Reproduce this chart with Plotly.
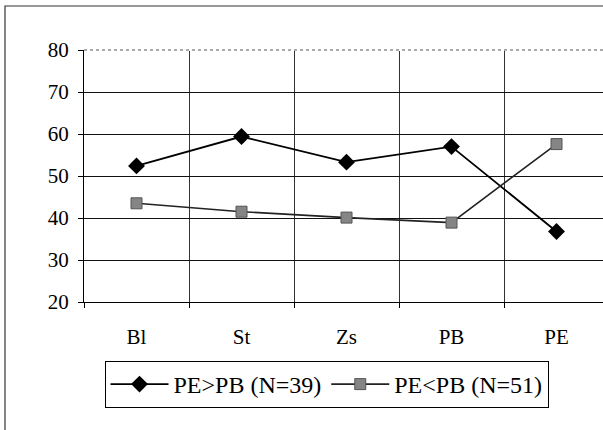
import plotly.graph_objects as go

categories = ["Bl", "St", "Zs", "PB", "PE"]
series_a_name = "PE>PB (N=39)"
series_a = [52.4, 59.4, 53.3, 57.0, 36.8]
series_b_name = "PE<PB (N=51)"
series_b = [43.5, 41.5, 40.1, 38.9, 57.6]
y_ticks = [20, 30, 40, 50, 60, 70, 80]

FONT = "Liberation Serif"

fig = go.Figure()
fig.add_trace(go.Scatter(
    x=categories, y=series_a, name=series_a_name, mode="lines+markers",
    line=dict(color="black", width=1.8),
    marker=dict(symbol="diamond", size=13, color="black"),
))
fig.add_trace(go.Scatter(
    x=categories, y=series_b, name=series_b_name, mode="lines+markers",
    line=dict(color="#222222", width=1.6),
    marker=dict(symbol="square", size=11, color="#858585",
                line=dict(color="#555555", width=1)),
))

L, R, T, B, W, H = 84, 0, 50, 128, 603, 430
pw, ph = W - L - R, H - T - B

fig.update_layout(
    width=W, height=H,
    margin=dict(l=L, r=R, t=T, b=B, pad=0),
    paper_bgcolor="white", plot_bgcolor="white",
    font=dict(family=FONT, size=21, color="black"),
    showlegend=True,
    legend=dict(
        orientation="h", x=(326.5 - L) / pw, xanchor="center",
        y=(H - B - 361) / ph, yanchor="top",
        bordercolor="black", borderwidth=1, bgcolor="white",
        font=dict(family=FONT, size=24, color="black"),
        itemwidth=58, tracegroupgap=0,
    ),
    xaxis=dict(
        type="category", range=[-0.5, -0.5 + pw / 105.0],
        tickson="boundaries", ticks="outside", ticklen=5, tickcolor="black",
        showgrid=True, gridcolor="#333333", gridwidth=1,
        showline=True, linecolor="black", linewidth=1,
        ticklabelstandoff=16, zeroline=False,
    ),
    yaxis=dict(
        range=[20, 80], tickvals=y_ticks, ticks="outside", ticklen=5,
        tickcolor="black", showgrid=True, gridcolor="#111111", gridwidth=1,
        showline=True, linecolor="black", linewidth=1.3,
        ticklabelstandoff=5, zeroline=False,
    ),
    shapes=[
        dict(type="line", xref="paper", yref="paper", x0=0, x1=1, y0=1, y1=1,
             line=dict(color="white", width=2), layer="above"),
        dict(type="line", xref="paper", yref="paper", x0=0, x1=1, y0=1, y1=1,
             line=dict(color="#555555", width=1, dash="dot"), layer="above"),
        dict(type="rect", xref="paper", yref="paper",
             x0=(5 - L) / pw, x1=1.05, y0=-0.6, y1=1 + (T - 6) / ph,
             line=dict(color="#333333", width=1.2), layer="below"),
    ],
)

fig.write_html("out.html")
